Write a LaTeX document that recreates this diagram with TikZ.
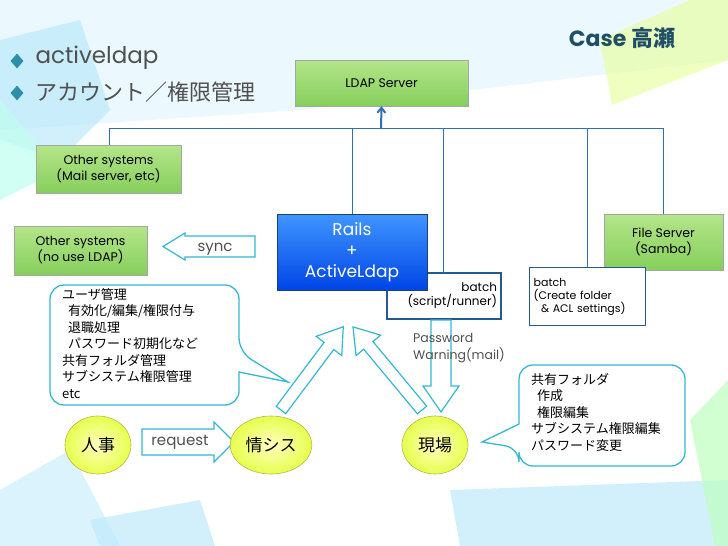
\documentclass[tikz,border=0pt]{standalone}
\usepackage{fontspec}
\setmainfont{Poppins}
\newfontfamily\jp{Noto Sans CJK JP}
\usetikzlibrary{shapes.geometric,arrows.meta}
\definecolor{teal1}{HTML}{2E8FA8}
\definecolor{title}{HTML}{1F4F66}
\definecolor{gtxt}{HTML}{505050}
\definecolor{linec}{HTML}{2F6FB5}
\definecolor{cy}{HTML}{33B8D0}
\definecolor{gtop}{HTML}{B4E58A}
\definecolor{gbot}{HTML}{86CF5C}
\tikzset{
 gbox/.style={draw=gray!70,top color=gtop,bottom color=gbot,inner sep=0pt,font=\fontsize{12.5}{16}\selectfont,align=center},
 bus/.style={draw=linec,line width=0.9pt},
 hollow/.style={draw=cy,line width=1.2pt,fill=white},
 bbox/.style={draw=linec!80!black,line width=1.4pt,fill=white,font=\fontsize{12}{14}\selectfont},
 ell/.style={ellipse,draw=olive!60,line width=0.6pt,inner color=yellow!25,outer color=lime!55!yellow!70,minimum width=66pt,minimum height=58pt,font=\jp\fontsize{17}{20}\selectfont},
 call/.style={draw=cy,line width=1.3pt,fill=white},
 ctxt/.style={font=\jp\fontsize{13}{16.5}\selectfont,align=left,anchor=north west,inner sep=0pt},
 dia/.style={diamond,fill=teal1,inner sep=0pt,minimum width=13pt,minimum height=15pt}
}
\begin{document}
\begin{tikzpicture}[x=1pt,y=-1pt]
\useasboundingbox (0,0) rectangle (728,546);
% background
\fill[white] (0,0) rectangle (728,546);
\fill[cyan!10,opacity=0.8] (0,0) -- (728,0) -- (728,60) -- (300,110) -- (0,130) -- cycle;
\fill[cyan!30,opacity=0.6] (0,40) -- (80,20) -- (110,110) -- (60,160) -- (0,140) -- cycle;
\fill[green!25!cyan!25,opacity=0.7] (0,100) -- (60,170) -- (0,200) -- cycle;
\fill[lime!35,opacity=0.7] (600,40) -- (690,0) -- (728,0) -- (728,60) -- (612,105) -- cycle;
\fill[cyan!20,opacity=0.7] (0,490) -- (70,450) -- (120,546) -- (0,546) -- cycle;
\fill[cyan!25,opacity=0.7] (90,520) -- (200,500) -- (215,546) -- (100,546) -- cycle;
\fill[cyan!25,opacity=0.7] (450,490) -- (728,480) -- (728,546) -- (460,546) -- cycle;
\fill[green!25,opacity=0.7] (690,420) -- (728,380) -- (728,546) -- (715,546) -- cycle;
% title and bullets
\node[font=\bfseries\fontsize{22}{24}\selectfont,text=title] (ttl) at (622,38) {Case {\jp 高瀬}};
\node[dia] (d1) at (17,61) {};
\node[dia] (d2) at (17,93) {};
\node[anchor=west,text=gtxt,font=\fontsize{23}{26}\selectfont] (b1) at (32,58) {activeldap};
\node[anchor=west,text=gtxt,font=\jp\fontsize{22}{26}\selectfont] (b2) at (32,92) {アカウント／権限管理};
% boxes
\node[gbox,minimum width=173pt,minimum height=46pt] (ldap) at (381.5,83) {LDAP Server};
\node[gbox,minimum width=145pt,minimum height=48pt] (mail) at (108.5,169) {Other systems\\(Mail server, etc)};
\node[gbox,minimum width=133pt,minimum height=49pt] (nouse) at (80.5,250.5) {Other systems\\(no use LDAP)};
\node[gbox,minimum width=119pt,minimum height=56pt] (fs) at (663.5,242) {File Server\\(Samba)};
\node[bbox,minimum width=114pt,minimum height=46pt,align=right,text width=106pt] (bat1) at (444,296) {batch\\(script/runner)};
\node[draw=linec!80!black,line width=1.4pt,fill=white,font=\fontsize{11}{13}\selectfont,align=left,anchor=north west,minimum width=116pt,minimum height=58pt,text width=108pt] (bat2) at (529,267) {batch\\(Create folder\\\ \ \& ACL settings)};
\node[draw=linec!60!black,top color=blue!55!cyan!75,bottom color=blue!70!cyan!90!black,text=white,minimum width=150pt,minimum height=76pt,font=\fontsize{17}{21}\selectfont,align=center] (rails) at (352,252) {Rails\\+\\ActiveLdap};
% bus
\coordinate (bl) at (109,128); \coordinate (br) at (663,128);
\draw[bus] (bl) -- (br);
\draw[bus] (bl) -- (mail.north -| bl);
\draw[bus] (352,128) -- (rails.north);
\draw[bus] (443,128) -- (443,273);
\draw[bus] (587,128) -- (587,267);
\draw[bus] (br) -- (fs.north -| br);
\draw[linec,line width=2pt,-{Straight Barb[length=5pt,width=8pt]}] (381,129) -- (ldap.south);
% sync arrow
\draw[hollow] (255,236) -- (185,236) -- (185,233) -- (163,246.5) -- (185,260) -- (185,257) -- (255,257) -- cycle;
\node[font=\fontsize{15}{17}\selectfont,text=gtxt] (sync) at (215,249) {sync};
% request arrow
\draw[hollow] (142,429) -- (214,429) -- (214,422) -- (234,442) -- (214,462) -- (214,455) -- (142,455) -- cycle;
\node[font=\fontsize{15}{17}\selectfont,text=gtxt] (req) at (180,442) {request};
% ellipses
\node[ell] (jinji) at (98,445) {人事};
\node[ell] (joshi) at (271,445) {情シス};
\node[ell] (genba) at (435,445) {現場};
% hollow up/down arrows
\begin{scope}[shift={(281,410)},rotate=53.2]
\draw[hollow] (0,-6) -- (80,-6) -- (80,-16) -- (104,0) -- (80,16) -- (80,6) -- (0,6) -- cycle;
\end{scope}
\begin{scope}[shift={(422,410)},rotate=129.7]
\draw[hollow] (0,-6) -- (84,-6) -- (84,-16) -- (108,0) -- (84,16) -- (84,6) -- (0,6) -- cycle;
\end{scope}
\begin{scope}[shift={(441,320)},rotate=-90]
\draw[hollow] (0,-10) -- (66,-10) -- (66,-18) -- (92,0) -- (66,18) -- (66,10) -- (0,10) -- cycle;
\end{scope}
\node[font=\fontsize{12.5}{17}\selectfont,text=gtxt,align=left,anchor=north west,inner sep=0pt] (pw) at (413,333) {Password\\Warning(mail)};
% callouts
\draw[call,rounded corners=14pt] (150,285) -- (239,285) -- (239,352) [sharp corners] -- (288,382) -- (239,372) [rounded corners=14pt] -- (239,405) -- (50,405) -- (50,285) -- cycle;
\node[ctxt] (c1) at (62,288) {ユーザ管理\\\ \ 有効化/編集/権限付与\\\ \ 退職処理\\\ \ パスワード初期化など\\共有フォルダ管理\\サブシステム権限管理\\etc};
\draw[call,rounded corners=14pt] (600,365) -- (685,365) -- (685,466) -- (519,466) -- (519,448) [sharp corners] -- (482,442) -- (519,424) [rounded corners=14pt] -- (519,365) -- cycle;
\node[ctxt] (c2) at (531,373) {共有フォルダ\\\ \ 作成\\\ \ 権限編集\\サブシステム権限編集\\パスワード変更};
\end{tikzpicture}
\end{document}
